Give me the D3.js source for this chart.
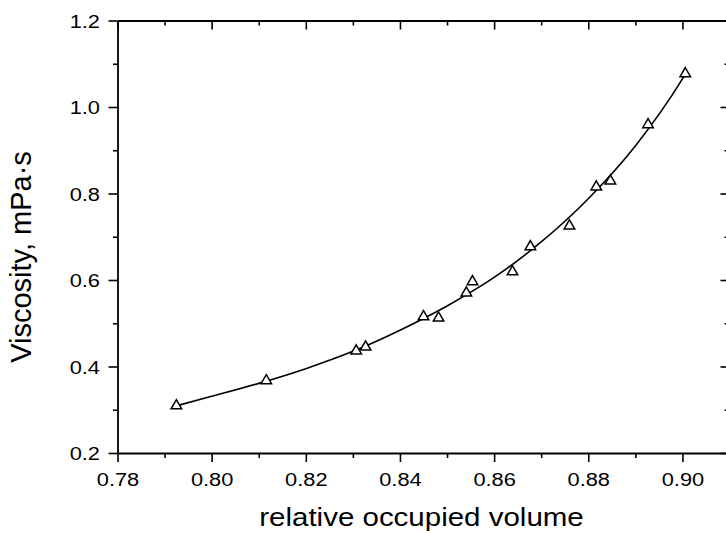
<!DOCTYPE html>
<html>
<head>
<meta charset="utf-8">
<script src="https://cdn.jsdelivr.net/npm/d3@7"></script>
<style>
  html, body { margin: 0; padding: 0; background: #fff; }
  svg { display: block; }
  text { font-family: "Liberation Sans", Arial, Helvetica, sans-serif; fill: #000; }
</style>
</head>
<body>
<svg id="chart" width="726" height="533"></svg>
<script>
// measured points (relative occupied volume, viscosity mPa·s)
const volume = [0.7925, 0.8116, 0.8307, 0.8327, 0.8450, 0.8482, 0.8541, 0.8554, 0.8639, 0.8677, 0.8760, 0.8817, 0.8847, 0.8927, 0.9006];
const viscosity = [0.311, 0.369, 0.438, 0.447, 0.517, 0.514, 0.572, 0.598, 0.621, 0.679, 0.727, 0.817, 0.831, 0.961, 1.079];

// fitted curve
const fitVolume = [0.7925, 0.80, 0.81, 0.82, 0.83, 0.84, 0.85, 0.86, 0.87, 0.88, 0.89, 0.90, 0.9005];
const fitViscosity = [0.309, 0.331, 0.361, 0.395, 0.435, 0.484, 0.540, 0.606, 0.688, 0.788, 0.910, 1.065, 1.074];

// tick values
const xMajor = [0.78, 0.80, 0.82, 0.84, 0.86, 0.88, 0.90];
const xMinor = [0.79, 0.81, 0.83, 0.85, 0.87, 0.89, 0.91];
const yMajor = [0.2, 0.4, 0.6, 0.8, 1.0, 1.2];
const yMinor = [0.3, 0.5, 0.7, 0.9, 1.1];

const xTitle = "relative occupied volume";
const yTitle = "Viscosity, mPa\u00B7s";

const svg = d3.select("#chart");
const L = 117.5, R = 729.5, T = 20.5, B = 453;
const x = d3.scaleLinear().domain([0.78, 0.91]).range([L, R]);
const y = d3.scaleLinear().domain([0.2, 1.2]).range([B, T]);
const SX = 1.18;

function styleAxis(g) {
  g.select(".domain").attr("stroke", "#000").attr("stroke-width", 1.8);
  g.selectAll(".tick line").attr("stroke", "#000").attr("stroke-width", 1.6);
}

// bottom
const gB = svg.append("g").attr("transform", `translate(0,${B})`)
  .call(d3.axisBottom(x).tickValues(xMajor).tickSize(9).tickSizeOuter(0).tickFormat(d3.format(".2f")));
styleAxis(gB);
gB.selectAll(".tick text").attr("y", 33.5).attr("dy", 0)
  .attr("font-size", 18.5).attr("transform", `scale(${SX},1)`).style("font-family", '"Liberation Sans", Arial, sans-serif');
svg.append("g").attr("transform", `translate(0,${B})`)
  .call(d3.axisBottom(x).tickValues(xMinor).tickSize(5).tickSizeOuter(0).tickFormat(""))
  .call(g => { g.select(".domain").remove(); g.selectAll(".tick line").attr("stroke", "#000").attr("stroke-width", 1.6); });

// top
const gT = svg.append("g").attr("transform", `translate(0,${T})`)
  .call(d3.axisBottom(x).tickValues(xMajor).tickSize(9).tickSizeOuter(0).tickFormat(""));
styleAxis(gT);
svg.append("g").attr("transform", `translate(0,${T})`)
  .call(d3.axisBottom(x).tickValues(xMinor).tickSize(5).tickSizeOuter(0).tickFormat(""))
  .call(g => { g.select(".domain").remove(); g.selectAll(".tick line").attr("stroke", "#000").attr("stroke-width", 1.6); });

// left
const gL = svg.append("g").attr("transform", `translate(${L},0)`)
  .call(d3.axisLeft(y).tickValues(yMajor).tickSize(9).tickSizeOuter(0).tickFormat(d3.format(".1f")));
styleAxis(gL);
gL.selectAll(".tick text").attr("x", -17.5 / SX).attr("dy", "0.36em")
  .attr("font-size", 18.5).attr("transform", `scale(${SX},1)`).style("font-family", '"Liberation Sans", Arial, sans-serif');
svg.append("g").attr("transform", `translate(${L},0)`)
  .call(d3.axisLeft(y).tickValues(yMinor).tickSize(4.5).tickSizeOuter(0).tickFormat(""))
  .call(g => { g.select(".domain").remove(); g.selectAll(".tick line").attr("stroke", "#000").attr("stroke-width", 1.6); });

// right (ticks inward)
const gR = svg.append("g").attr("transform", `translate(${R},0)`)
  .call(d3.axisLeft(y).tickValues(yMajor).tickSize(9).tickSizeOuter(0).tickFormat(""));
styleAxis(gR);
svg.append("g").attr("transform", `translate(${R},0)`)
  .call(d3.axisLeft(y).tickValues(yMinor).tickSize(5).tickSizeOuter(0).tickFormat(""))
  .call(g => { g.select(".domain").remove(); g.selectAll(".tick line").attr("stroke", "#000").attr("stroke-width", 1.6); });

// fitted curve
const fit = fitVolume.map((v, i) => [v, fitViscosity[i]]);
svg.append("path")
  .datum(fit)
  .attr("fill", "none").attr("stroke", "#000").attr("stroke-width", 1.6)
  .attr("d", d3.line().x(d => x(d[0])).y(d => y(d[1])).curve(d3.curveMonotoneX));

// markers
const pts = volume.map((v, i) => [v, viscosity[i]]);
const tri = d3.symbol().type(d3.symbolTriangle).size(48);
svg.append("g").selectAll("path").data(pts).join("path")
  .attr("d", tri)
  .attr("transform", d => `translate(${x(d[0])},${y(d[1]) + 0.8})`)
  .attr("fill", "#fff").attr("stroke", "#000").attr("stroke-width", 1.5);

// titles
svg.append("text")
  .attr("transform", `translate(${(L + R) / 2 - 2},526) scale(${SX},1)`)
  .attr("text-anchor", "middle").attr("font-size", 25)
  .text(xTitle);
svg.append("text")
  .attr("transform", `translate(31,257) rotate(-90)`)
  .attr("text-anchor", "middle").attr("font-size", 29)
  .text(yTitle);
</script>
</body>
</html>
